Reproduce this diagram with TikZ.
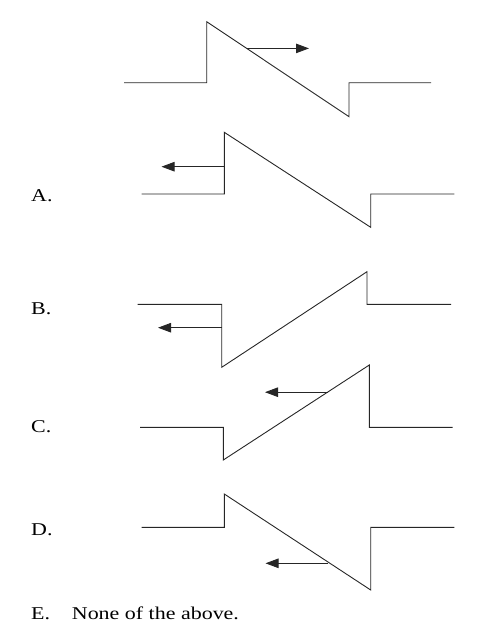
\documentclass[tikz,border=0pt]{standalone}
\usepackage{fontspec}
\setmainfont{Liberation Serif}[FakeStretch=1.22]
\usetikzlibrary{arrows.meta}
\begin{document}
\begin{tikzpicture}[x=1pt,y=-1pt,
  wave/.style={draw=black!85,line width=0.9pt,line join=miter},
  vel/.style={draw=black!85,line width=0.9pt,-{Triangle[length=13pt,width=9.5pt]}},
  lbl/.style={anchor=base west,inner sep=0pt,font=\fontsize{18}{20}\selectfont}]
\useasboundingbox (0,0) rectangle (488,625);
% top
\draw[wave] (124,82.7) -- (206.7,82.7) -- (206.7,21.7) -- (349,116.7) -- (349,82.7) -- (431,82.7);
\coordinate (t1) at (246.7,48.4); \coordinate (t2) at (309,48.4);
\draw[vel] (t1) -- (t2);
% A
\node[lbl] (la) at (31,201) {A.};
\draw[wave] (141.7,194) -- (224.3,194) -- (224.3,132.3) -- (370.7,227.3) -- (370.7,194) -- (454.3,194);
\coordinate (a1) at (224.3,166.7); \coordinate (a2) at (161.5,166.7);
\draw[vel] (a1) -- (a2);
% B
\node[lbl] (lb) at (31,314.5) {B.};
\draw[wave] (137.7,304.3) -- (221.7,304.3) -- (221.7,367.3) -- (367,271.7) -- (367,304.3) -- (451,304.3);
\coordinate (b1) at (221.7,327.7); \coordinate (b2) at (158,327.7);
\draw[vel] (b1) -- (b2);
% C
\node[lbl] (lc) at (31,432.5) {C.};
\draw[wave] (140,427.3) -- (223.3,427.3) -- (223.3,460) -- (369.3,365) -- (369.3,427.3) -- (452.7,427.3);
\coordinate (c1) at (328.3,392.2); \coordinate (c2) at (265,392.2);
\draw[vel] (c1) -- (c2);
% D
\node[lbl] (ld) at (31,535) {D.};
\draw[wave] (141.7,527.3) -- (224.3,527.3) -- (224.3,494) -- (370.7,590) -- (370.7,527.3) -- (454.3,527.3);
\coordinate (d1) at (328.3,563.3); \coordinate (d2) at (265.5,563.3);
\draw[vel] (d1) -- (d2);
% E
\node[lbl] (le) at (31,619) {E.};
\node[lbl] (ne) at (71.7,619) {None of the above.};
\end{tikzpicture}
\end{document}
